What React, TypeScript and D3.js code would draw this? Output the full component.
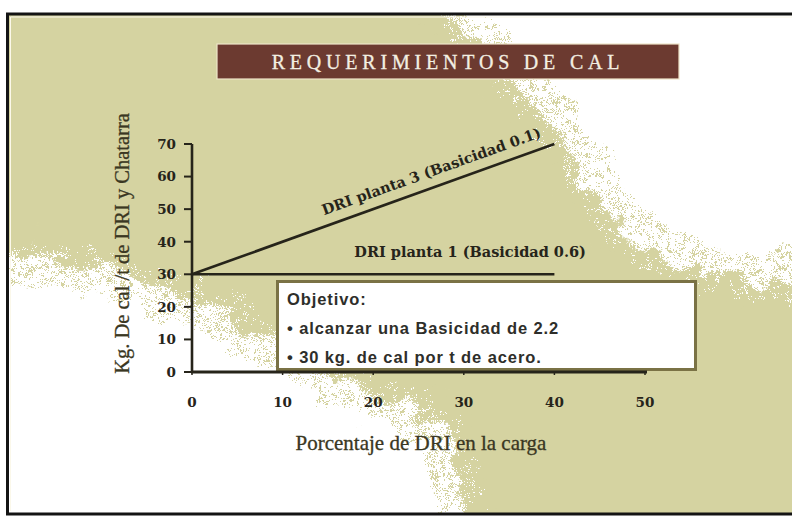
import React from "react";
import * as d3 from "d3";

// Porcentaje de DRI en la carga (eje X) y kg de cal por t (eje Y)
const xTicks = [0, 10, 20, 30, 40, 50];
const yTicks = [0, 10, 20, 30, 40, 50, 60, 70];

const planta3 = [
  { x: 0, y: 30 },
  { x: 40, y: 70 },
];
const planta1 = [
  { x: 0, y: 30 },
  { x: 40, y: 30 },
];

const planta3Label = "DRI planta 3 (Basicidad 0.1)";
const planta1Label = "DRI planta 1 (Basicidad 0.6)";
const title = "REQUERIMIENTOS DE CAL";
const yTitle = "Kg. De cal /t de DRI y Chatarra";
const xTitle = "Porcentaje de DRI en la carga";
const objetivo = ["Objetivo:", "• alcanzar una Basicidad de 2.2", "• 30 kg. de cal por t de acero."];

const W = 792;
const H = 516;

const OLIVE = "#d5d3a1";
const INK = "#26241a";
const serif = "'Liberation Serif', 'Times New Roman', serif";
const slab = "'DejaVu Serif', serif";
const sans = "'Liberation Sans', Arial, sans-serif";

export default function App() {
  const x = d3.scaleLinear().domain([0, 50]).range([192, 645]);
  const y = d3.scaleLinear().domain([0, 70]).range([372, 144]);

  const line = d3
    .line<{ x: number; y: number }>()
    .x((d) => x(d.x))
    .y((d) => y(d.y));

  const angle =
    (Math.atan2(y(planta3[1].y) - y(planta3[0].y), x(planta3[1].x) - x(planta3[0].x)) * 180) / Math.PI;
  const slope = (planta3[1].y - planta3[0].y) / (planta3[1].x - planta3[0].x);
  const l3x = 27;
  const l3y = planta3[0].y + slope * l3x;

  // olive background band running from upper left to lower right
  const band: [number, number][] = [
    [-60, -60],
    [420, -60],
    [450, 14],
    [525, 95],
    [575, 160],
    [625, 235],
    [700, 278],
    [860, 285],
    [860, 580],
    [480, 580],
    [470, 516],
    [445, 425],
    [335, 375],
    [205, 302],
    [80, 262],
    [-60, 252],
  ];
  const bandPts = band.map((p) => p.join(",")).join(" ");

  return (
    <svg
      width={W}
      height={H}
      viewBox={`0 0 ${W} ${H}`}
      style={{ position: "absolute", left: 0, top: 0, background: "#fff" }}
    >
      <defs>
        <filter id="wavy" x="-10%" y="-10%" width="120%" height="120%">
          <feTurbulence type="fractalNoise" baseFrequency="0.035" numOctaves="2" seed="7" result="coarse" />
          <feDisplacementMap
            in="SourceGraphic"
            in2="coarse"
            scale="40"
            xChannelSelector="R"
            yChannelSelector="G"
            result="wv"
          />
          <feTurbulence type="fractalNoise" baseFrequency="0.45" numOctaves="2" seed="3" result="fine" />
          <feDisplacementMap in="wv" in2="fine" scale="12" xChannelSelector="R" yChannelSelector="G" />
        </filter>
        <filter id="speckA" x="-10%" y="-10%" width="120%" height="120%">
          <feTurbulence type="fractalNoise" baseFrequency="0.32" numOctaves="2" seed="11" result="n" />
          <feColorMatrix
            in="n"
            type="matrix"
            values="0 0 0 0 0  0 0 0 0 0  0 0 0 0 0  1 0 0 0 0"
            result="a"
          />
          <feComponentTransfer in="a" result="m">
            <feFuncA type="discrete" tableValues="0 0 0 1 1" />
          </feComponentTransfer>
          <feComposite in="SourceGraphic" in2="m" operator="in" />
        </filter>
        <filter id="speckB" x="-10%" y="-10%" width="120%" height="120%">
          <feTurbulence type="fractalNoise" baseFrequency="0.38" numOctaves="2" seed="23" result="n" />
          <feColorMatrix
            in="n"
            type="matrix"
            values="0 0 0 0 0  0 0 0 0 0  0 0 0 0 0  1 0 0 0 0"
            result="a"
          />
          <feComponentTransfer in="a" result="m">
            <feFuncA type="discrete" tableValues="0 0 0 0 1 1" />
          </feComponentTransfer>
          <feComposite in="SourceGraphic" in2="m" operator="in" />
        </filter>
        <clipPath id="frame">
          <rect x={8} y={14} width={W - 8} height={500} />
        </clipPath>
      </defs>

      <g clipPath="url(#frame)">
        <g filter="url(#wavy)">
          <polygon points={bandPts} fill={OLIVE} />
          <polygon points={bandPts} fill="none" stroke="#ffffff" strokeWidth={36} filter="url(#speckB)" />
          <polygon points={bandPts} fill="none" stroke={OLIVE} strokeWidth={56} filter="url(#speckA)" />
        </g>
      </g>

      {/* frame */}
      <line x1={10.5} y1={17} x2={W} y2={17} stroke="#fbf8ea" strokeWidth={1} />
      <line x1={10.5} y1={17} x2={10.5} y2={511} stroke="#fbf8ea" strokeWidth={1} />
      <line x1={6} y1={14} x2={W} y2={14} stroke="#141414" strokeWidth={3} />
      <line x1={7.5} y1={13} x2={7.5} y2={515} stroke="#141414" strokeWidth={3} />
      <line x1={6} y1={514} x2={W} y2={514} stroke="#141414" strokeWidth={3} />

      {/* title bar */}
      <rect x={217} y={44} width={462} height={35} fill="#6c3a30" stroke="#efe4c8" strokeWidth={1.2} />
      <text
        x={448}
        y={68.5}
        textAnchor="middle"
        fill="#f3efe2"
        fontFamily={serif}
        fontSize={20}
        letterSpacing={4.8}
        stroke="#f3efe2"
        strokeWidth={0.3}
      >
        {title}
      </text>

      {/* objective box */}
      <rect x={277.5} y={281.5} width={418} height={88} fill="#ffffff" stroke="#7a7245" strokeWidth={3} />
      {objetivo.map((t, i) => (
        <text
          key={i}
          x={287}
          y={305 + i * 29}
          fill="#2e2e2a"
          fontFamily={sans}
          fontWeight="bold"
          fontSize={16.5}
          letterSpacing={0.9}
        >
          {t}
        </text>
      ))}

      {/* axes */}
      <line x1={x(0)} y1={y(0)} x2={x(0)} y2={y(70)} stroke={INK} strokeWidth={2.6} />
      <line x1={x(0) - 1} y1={y(0)} x2={x(50) + 2} y2={y(0)} stroke={INK} strokeWidth={3} />
      {yTicks.map((t) => (
        <g key={`y${t}`}>
          <line x1={x(0) - 8} y1={y(t)} x2={x(0)} y2={y(t)} stroke={INK} strokeWidth={2} />
          <text
            x={176}
            y={y(t)}
            dy="0.36em"
            textAnchor="end"
            fill={INK}
            fontFamily={slab}
            fontWeight="bold"
            fontSize={13.5}
          >
            {t}
          </text>
        </g>
      ))}
      {xTicks.map((t) => (
        <g key={`x${t}`}>
          <line x1={x(t)} y1={y(0)} x2={x(t)} y2={y(0) + 3} stroke={INK} strokeWidth={1.5} />
          <text
            x={x(t)}
            y={407}
            textAnchor="middle"
            fill={INK}
            fontFamily={slab}
            fontWeight="bold"
            fontSize={13.5}
          >
            {t}
          </text>
        </g>
      ))}

      {/* series */}
      <path d={line(planta1) ?? ""} fill="none" stroke={INK} strokeWidth={2.6} />
      <path d={line(planta3) ?? ""} fill="none" stroke={INK} strokeWidth={2.6} />

      <text
        transform={`translate(${x(l3x)},${y(l3y)}) rotate(${angle})`}
        y={-11}
        textAnchor="middle"
        fill={INK}
        fontFamily={slab}
        fontWeight="bold"
        fontSize={14.5}
      >
        {planta3Label}
      </text>
      <text
        x={x(30.7)}
        y={y(30) - 17}
        textAnchor="middle"
        fill={INK}
        fontFamily={slab}
        fontWeight="bold"
        fontSize={14.5}
      >
        {planta1Label}
      </text>

      {/* axis titles */}
      <text
        transform={`translate(129,243.5) rotate(-90)`}
        textAnchor="middle"
        fill="#3a3722"
        fontFamily={serif}
        fontSize={20.5}
        stroke="#3a3722"
        strokeWidth={0.3}
      >
        {yTitle}
      </text>
      <text
        x={421}
        y={450}
        textAnchor="middle"
        fill="#3a3722"
        fontFamily={serif}
        fontSize={21}
        stroke="#3a3722"
        strokeWidth={0.3}
      >
        {xTitle}
      </text>
    </svg>
  );
}
